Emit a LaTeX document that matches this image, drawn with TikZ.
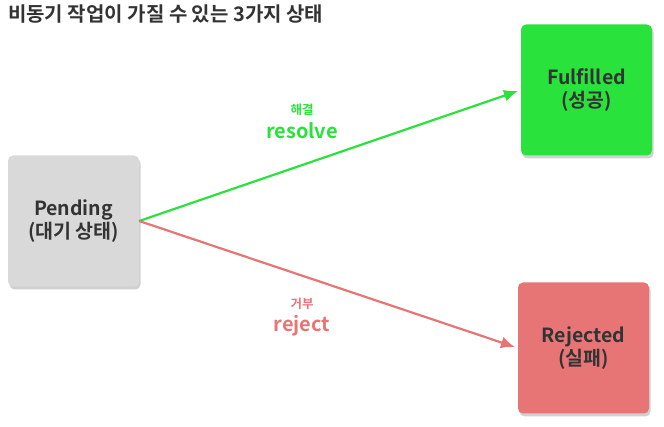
\documentclass[tikz,border=0pt]{standalone}
\usepackage{fontspec}
\setmainfont{Noto Sans CJK KR}[BoldFont={* Bold}]
\usetikzlibrary{arrows.meta,shadows}
\definecolor{txt}{HTML}{333333}
\definecolor{pendc}{HTML}{D9D9D9}
\definecolor{okc}{HTML}{2AE23C}
\definecolor{badc}{HTML}{E87575}
\tikzset{
  statebox/.style={rounded corners=5pt, minimum width=131pt, minimum height=131pt,
    inner sep=0pt, align=center, text=txt, font=\fontsize{19.5}{23}\selectfont\bfseries,
    drop shadow={shadow xshift=1.5pt, shadow yshift=-3pt, opacity=0.18, fill=black}},
  flow/.style={line width=2.2pt, -{Latex[length=14pt,width=12pt]}, shorten >=3pt},
  small/.style={font=\fontsize{12.5}{14}\selectfont\bfseries},
  big/.style={font=\fontsize{20}{22}\selectfont\bfseries}
}
\begin{document}
\begin{tikzpicture}[x=1pt,y=-1pt]
\useasboundingbox (0,0) rectangle (664,427);
\node[anchor=west, text=txt, font=\fontsize{20}{22}\selectfont\bfseries, inner sep=0pt] (title) at (8,14) {비동기 작업이 가질 수 있는 3가지 상태};
\node[statebox, fill=pendc] (pend) at (73.5,221) {Pending\\(대기 상태)};
\node[statebox, fill=okc] (ful) at (586.5,90) {Fulfilled\\(성공)};
\node[statebox, fill=badc] (rej) at (583.5,348) {Rejected\\(실패)};
\draw[flow, okc] (pend.east) -- (ful.west);
\draw[flow, badc] (pend.east) -- (rej.west);
\node[small, text=okc] (l1a) at (302,110) {해결};
\node[big, text=okc] (l1b) at (302,131) {resolve};
\node[small, text=badc] (l2a) at (302,304) {거부};
\node[big, text=badc] (l2b) at (302,326) {reject};
\end{tikzpicture}
\end{document}
